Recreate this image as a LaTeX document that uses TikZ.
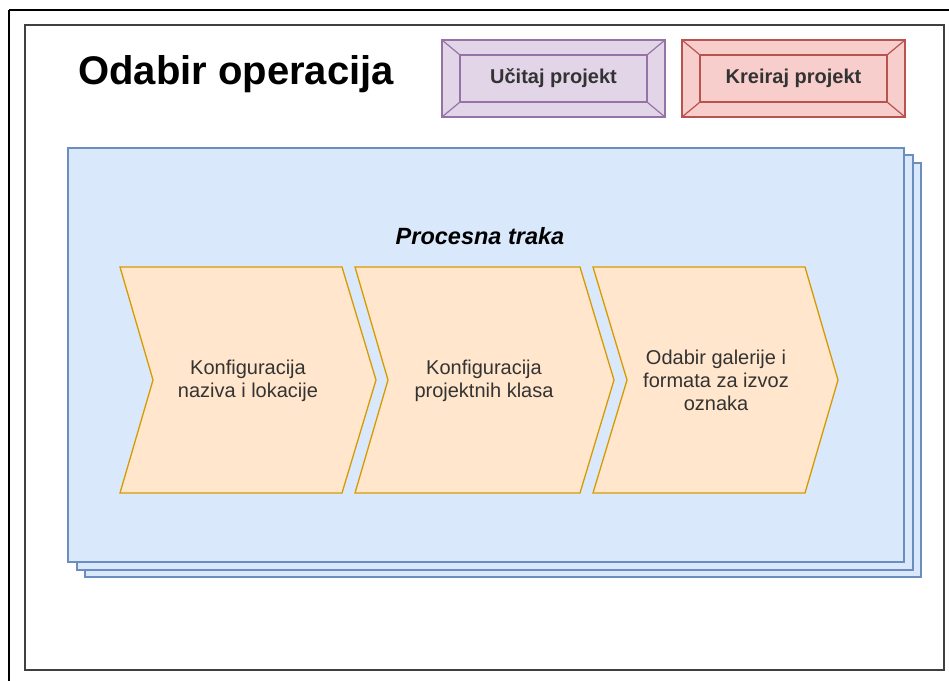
\documentclass[tikz,border=0pt]{standalone}
\usepackage{fontspec}
\setmainfont{Liberation Sans}
\definecolor{purplefill}{HTML}{E1D5E7}
\definecolor{purpleline}{HTML}{9673A6}
\definecolor{redfill}{HTML}{F8CECC}
\definecolor{redline}{HTML}{B85450}
\definecolor{bluefill}{HTML}{DAE8FC}
\definecolor{blueline}{HTML}{6C8EBF}
\definecolor{orangefill}{HTML}{FFE6CC}
\definecolor{orangeline}{HTML}{D79B00}
\definecolor{txt}{HTML}{333333}
\tikzset{
  stackbox/.style={draw=blueline, fill=bluefill, line width=1.5pt},
  chev/.style={draw=orangeline, fill=orangefill, line width=1.3pt, line join=miter},
  chevtext/.style={text=txt, align=center, font=\fontsize{20}{23}\selectfont, inner sep=0pt},
  btntext/.style={text=txt, font=\bfseries\fontsize{20}{24}\selectfont, inner sep=0pt},
}
\begin{document}
\begin{tikzpicture}[x=1pt,y=-1pt]
\useasboundingbox (0,0) rectangle (949,680);
\fill[white] (0,0) rectangle (949,680);
% frames
\draw[black, line width=1.5pt] (9,10) -- (952,10);
\draw[black, line width=1.5pt] (9,10) -- (9,684);
\draw[black!75, line width=2pt] (25,25) rectangle (944,670);
% title
\node[font=\bfseries\fontsize{40}{46}\selectfont, anchor=base west, inner sep=0pt] (title) at (78,84) {Odabir operacija};
% buttons
\foreach \x/\fc/\lc/\nm in {442/purplefill/purpleline/bA, 682/redfill/redline/bB}{
  \draw[fill=\fc, draw=\lc, line width=1.2pt] (\x,40) rectangle ++(223,77);
  \draw[draw=\lc, line width=1.2pt] (\x+18,55) rectangle (\x+205,102);
  \draw[draw=\lc, line width=1.2pt] (\x,40) -- (\x+18,55) (\x+223,40) -- (\x+205,55)
     (\x,117) -- (\x+18,102) (\x+223,117) -- (\x+205,102);
}
\node[btntext] (load) at (553.5,78.5) {Učitaj projekt};
\node[btntext] (create) at (793.5,78.5) {Kreiraj projekt};
% stacked container
\draw[stackbox] (85,163) rectangle (921,577);
\draw[stackbox] (77,155) rectangle (913,570);
\draw[stackbox] (68,148) rectangle (904,562);
\node[font=\bfseries\itshape\fontsize{23.5}{27}\selectfont, inner sep=0pt] (lane) at (480,236) {Procesna traka};
% chevrons
\draw[chev] (120,267) -- (342,267) -- (376,380) -- (342,493) -- (120,493) -- (153,380) -- cycle;
\draw[chev] (355,267) -- (580,267) -- (614,380) -- (580,493) -- (355,493) -- (388,380) -- cycle;
\draw[chev] (593,267) -- (805,267) -- (838,380) -- (805,493) -- (593,493) -- (627,380) -- cycle;
\node[chevtext] (c1) at (248,381) {Konfiguracija\\naziva i lokacije};
\node[chevtext] (c2) at (484,381) {Konfiguracija\\projektnih klasa};
\node[chevtext] (c3) at (716,380) {Odabir galerije i\\formata za izvoz\\oznaka};
\end{tikzpicture}
\end{document}
